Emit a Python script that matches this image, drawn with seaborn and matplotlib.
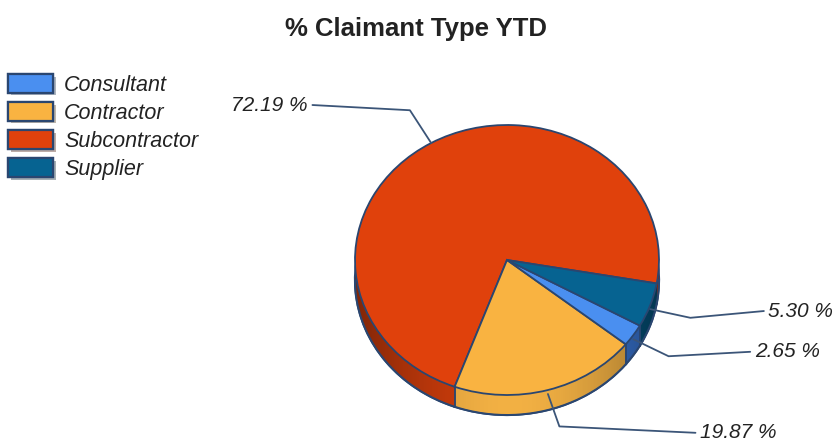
import numpy as np
import matplotlib
matplotlib.use("Agg")
import matplotlib.pyplot as plt
import matplotlib.patheffects as pe
from matplotlib.patches import Patch, Polygon
import seaborn as sns

sns.set_theme(style="white")
plt.rcParams['font.family'] = ['Liberation Sans', 'DejaVu Sans']

# ---- data ----
categories = ["Consultant", "Contractor", "Subcontractor", "Supplier"]
values = [2.65, 19.87, 72.19, 5.30]
label_texts = ["2.65 %", "19.87 %", "72.19 %", "5.30 %"]
palette = {"Consultant": "#4a8ff0", "Contractor": "#f9b341",
           "Subcontractor": "#e0410c", "Supplier": "#066391"}
side_palette = {"Consultant": "#3a78d8", "Contractor": "#f7b445",
                "Subcontractor": "#d23e0c", "Supplier": "#055680"}
draw_order = ["Subcontractor", "Contractor", "Consultant", "Supplier"]

# ---- layout ----
W, H = 838, 441
cx, cy, rx, ry = 507, 260, 152, 135
x0, x1, y0, y1 = -3.4, 2.25, -1.55, 1.95
depth = 20 / ry
edge = "#2a4670"
line_col = "#3b5578"
# label text anchor positions (ellipse units) and alignment
label_layout = {"Subcontractor": ((-1.31, 1.148), "right"),
                "Supplier": ((1.72, -0.378), "left"),
                "Consultant": ((1.63, -0.68), "left"),
                "Contractor": ((1.27, -1.28), "left")}

fig = plt.figure(figsize=(W / 100, H / 100), dpi=100)
ax = fig.add_axes([(cx + x0 * rx) / W, (H - cy + y0 * ry) / H,
                   (x1 - x0) * rx / W, (y1 - y0) * ry / H])

vals = [values[categories.index(c)] for c in draw_order]
top_cols = [palette[c] for c in draw_order]
side_cols = [side_palette[c] for c in draw_order]

# side (depth) layers
shifts = np.linspace(depth, 0.0, 40)
for i, s in enumerate(shifts):
    ax.pie(vals, colors=side_cols, startangle=-10, counterclock=True,
           center=(0, -s), radius=1.0,
           wedgeprops=dict(edgecolor=edge if i == 0 else "none",
                           linewidth=1.6 if i == 0 else 0, zorder=1))

# shading gradient over the side wall
theta = np.linspace(np.pi, 2 * np.pi, 200)
top_arc = np.column_stack([np.cos(theta), np.sin(theta)])
bot_arc = np.column_stack([np.cos(theta[::-1]), np.sin(theta[::-1]) - depth])
side_poly = Polygon(np.vstack([top_arc, bot_arc]), closed=True,
                    facecolor="none", edgecolor="none")
ax.add_patch(side_poly)
xs = np.linspace(-1, 1, 256)
rgba = np.zeros((1, 256, 4))
rgba[..., 3] = 0.02 + 0.36 * np.abs(xs - 0.02) ** 1.8
im = ax.imshow(rgba, extent=(-1, 1, -1 - depth, 0), aspect="auto",
               zorder=2, interpolation="bilinear")
im.set_clip_path(side_poly)

# top face
wedges, _ = ax.pie(vals, colors=top_cols, startangle=-10, counterclock=True,
                   center=(0, 0), radius=1.0,
                   wedgeprops=dict(edgecolor=edge, linewidth=1.3, zorder=4))

# bottom outline of side wall
ax.plot(np.cos(theta), np.sin(theta) - depth, color=edge, lw=1.4, zorder=5)

# vertical boundary lines on the visible side
for w in wedges:
    for t in (w.theta1, w.theta2):
        a = np.deg2rad(t)
        if np.sin(a) < -0.2:
            ax.plot([np.cos(a), np.cos(a)], [np.sin(a), np.sin(a) - depth],
                    color=edge, lw=1.1, clip_on=False, zorder=5)

# labels with elbow leader lines
for w, cat in zip(wedges, draw_order):
    mid = np.deg2rad((w.theta1 + w.theta2) / 2)
    c, s = np.cos(mid), np.sin(mid)
    anchor = (c, s - (depth * 0.2 if s < 0 else 0))
    elbow = (1.28 * c, 1.28 * s)
    (tx, ty), ha = label_layout[cat]
    gap = 0.03 if ha == "left" else -0.03
    ax.plot([anchor[0], elbow[0], tx - gap], [anchor[1], elbow[1], ty],
            color=line_col, lw=1.3, clip_on=False, zorder=6)
    ax.text(tx, ty, label_texts[categories.index(cat)], ha=ha, va="center",
            fontsize=15, fontstyle="italic", color="#222222", clip_on=False)

ax.set_aspect("auto")
ax.set_xlim(x0, x1)
ax.set_ylim(y0, y1)
ax.set_axis_off()

# legend
handles = [Patch(facecolor=palette[c], edgecolor=edge, linewidth=1.6) for c in categories]
leg = fig.legend(handles, categories, loc="upper left",
                 bbox_to_anchor=(8 / W, 1 - 74 / H), frameon=False,
                 prop=dict(style="italic", size=15.5), labelcolor="#222222",
                 handlelength=2.1, handleheight=0.95, handletextpad=0.5,
                 labelspacing=0.3, borderpad=0, borderaxespad=0)
for h in leg.legend_handles:
    h.set_path_effects([pe.withSimplePatchShadow(offset=(2, -2), alpha=0.35), pe.Normal()])

fig.text(416 / W, 1 - 29 / H, "% Claimant Type YTD", ha="center", va="center",
         fontsize=18.5, fontweight="bold", color="#222222")

fig.savefig("out.png", dpi=100, facecolor="white")
